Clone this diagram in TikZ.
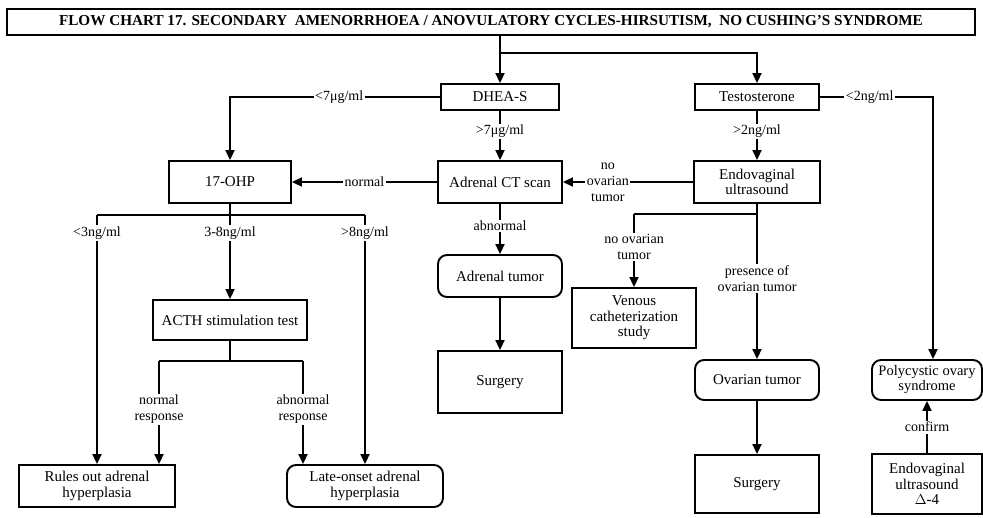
\documentclass[tikz,border=0pt]{standalone}
\usepackage{fontspec}
\setmainfont{Liberation Serif}
\usetikzlibrary{arrows.meta}
\begin{document}
\begin{tikzpicture}[x=1pt,y=-1pt,
  line width=1.9pt,
  every node/.style={font=\fontsize{15}{15.5}\selectfont},
  box/.style={draw,line width=1.9pt,align=center,inner sep=2pt},
  rbox/.style={box,rounded corners=9pt},
  lbl/.style={fill=white,inner sep=1.5pt,align=center,font=\fontsize{14}{16}\selectfont},
  arr/.style={-{Triangle[length=10pt,width=9pt]}},
]
\useasboundingbox (0,0) rectangle (983,517);

% title bar
\node[box,minimum width=968pt,minimum height=26pt,font=\bfseries\fontsize{15.2}{16}\selectfont]
  (title) at (491,22) {FLOW CHART 17. SECONDARY\ \ AMENORRHOEA / ANOVULATORY CYCLES-HIRSUTISM,\ \ NO CUSHING'S SYNDROME};

% first tests
\node[box,minimum width=118pt,minimum height=26pt] (dhea)  at (500,97) {DHEA-S};
\node[box,minimum width=124pt,minimum height=26pt] (testo) at (757,97) {Testosterone};

% second row
\node[box,minimum width=122pt,minimum height=42pt] (ohp)  at (230,182) {17-OHP};
\node[box,minimum width=124pt,minimum height=42pt] (ct)   at (500,182) {Adrenal CT scan};
\node[box,minimum width=126pt,minimum height=42pt] (endo) at (757,182) {Endovaginal\\ultrasound};

% adrenal branch
\node[box,minimum width=154pt,minimum height=40pt] (acth) at (230,320) {ACTH stimulation test};
\node[box,minimum width=156pt,minimum height=42pt] (rules) at (97,486) {Rules out adrenal\\hyperplasia};
\node[rbox,minimum width=156pt,minimum height=42pt] (late) at (365,486) {Late-onset adrenal\\hyperplasia};
\node[rbox,minimum width=124pt,minimum height=42pt] (atumor) at (500,276) {Adrenal tumor};
\node[box,minimum width=124pt,minimum height=62pt] (surg1) at (500,382) {Surgery};

% ovarian branch
\node[box,minimum width=124pt,minimum height=60pt] (venous) at (634,318) {Venous\\catheterization\\study};
\node[rbox,minimum width=124pt,minimum height=40pt] (otumor) at (757,380) {Ovarian tumor};
\node[box,minimum width=124pt,minimum height=58pt] (surg2) at (757,484) {Surgery};

% polycystic ovary branch
\node[rbox,minimum width=110pt,minimum height=40pt,inner sep=1pt,font=\fontsize{14.5}{15}\selectfont] (pcos) at (927,380) {Polycystic ovary\\syndrome};
\node[box,minimum width=110pt,minimum height=60pt] (endo2) at (927,484) {Endovaginal\\ultrasound\\$\Delta$-4};

% junction points
\coordinate (split) at (500,53);
\coordinate (ohpbar) at (230,215);
\coordinate (o1) at (97,215);
\coordinate (o3) at (365,215);
\coordinate (acthbar) at (230,361);
\coordinate (a1) at (159,361);
\coordinate (a2) at (303,361);
\coordinate (endobar) at (757,214);
\coordinate (e1) at (634,214);
\coordinate (rt) at (933,97);

% connectors from the title
\draw[arr] (title.south -| dhea.north) -- (dhea.north);
\draw[arr] (split) -| (testo.north);

% DHEA-S outcomes
\draw[arr] (dhea.west) -- node[lbl,pos=0.48]{<7μg/ml} (ohp.north |- dhea.west) -- (ohp.north);
\draw[arr] (dhea.south) -- node[lbl,pos=0.42]{>7μg/ml} (ct.north);

% Testosterone outcomes
\draw[arr] (testo.south) -- node[lbl,pos=0.42]{>2ng/ml} (endo.north);
\draw[arr] (testo.east) -- node[lbl,pos=0.44]{<2ng/ml} (rt) -- (rt |- pcos.north);

% imaging
\draw[arr] (endo.west) -- node[lbl,pos=0.655]{no\\ovarian\\tumor} (ct.east);
\draw[arr] (ct.west) -- node[lbl,pos=0.5]{normal} (ohp.east);
\draw[arr] (ct.south) -- node[lbl,pos=0.44]{abnormal} (atumor.north);
\draw[arr] (atumor.south) -- (surg1.north);

% 17-OHP levels
\draw (ohp.south) -- (ohpbar);
\draw (o1) -- (o3);
\draw[arr] (o1) -- node[lbl,pos=0.072]{<3ng/ml} (o1 |- rules.north);
\draw[arr] (ohpbar) -- node[lbl,pos=0.21]{3-8ng/ml} (acth.north);
\draw[arr] (o3) -- node[lbl,pos=0.072]{>8ng/ml} (o3 |- late.north);

% ACTH stimulation responses
\draw (acth.south) -- (acthbar);
\draw (a1) -- (a2);
\draw[arr] (a1) -- node[lbl,pos=0.47]{normal\\response} (a1 |- rules.north);
\draw[arr] (a2) -- node[lbl,pos=0.47]{abnormal\\response} (a2 |- late.north);

% endovaginal ultrasound findings
\draw (e1) -- (endobar);
\draw[arr] (e1) -- node[lbl,pos=0.45]{no ovarian\\tumor} (venous.north);
\draw[arr] (endo.south) -- node[lbl,pos=0.48]{presence of\\ovarian tumor} (otumor.north);
\draw[arr] (otumor.south) -- (surg2.north);

% confirmation of polycystic ovaries
\draw[arr] (endo2.north) -- node[lbl,pos=0.5]{confirm} (pcos.south);
\end{tikzpicture}
\end{document}
